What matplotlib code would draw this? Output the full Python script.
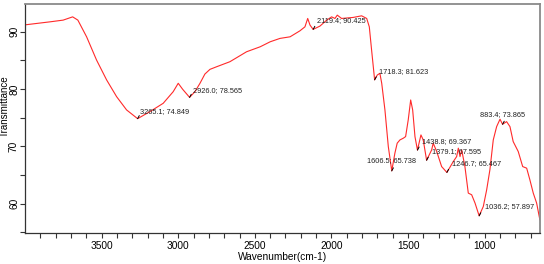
#!/usr/bin/env python3
# -*- coding: utf-8 -*-
"""
plot.py — FTIR spectrum (transmittance vs wavenumber) with peak labels.
"""

import matplotlib
matplotlib.use('Agg')
import matplotlib.pyplot as plt
from matplotlib.ticker import FixedLocator, MultipleLocator

matplotlib.rcParams['font.family'] = ['Liberation Sans', 'DejaVu Sans']

# spectrum (cm-1, %T)
wavenumber = [3998, 3837, 3751, 3689, 3655, 3598, 3533, 3467, 3402, 3337,
              3265.1, 3185, 3098, 3033, 3000, 2971, 2926.0, 2891, 2858, 2826,
              2793, 2749, 2663, 2554, 2465, 2400, 2336, 2270, 2206, 2173,
              2155, 2140, 2119.4, 2075, 2031, 1999, 1977, 1962, 1934, 1858,
              1803, 1770, 1753, 1738, 1718.3, 1701, 1684, 1672, 1651, 1629,
              1606.5, 1586, 1571, 1553, 1531, 1516, 1499, 1483, 1470, 1455,
              1438.8, 1416, 1401, 1379.1, 1346, 1336, 1313, 1281, 1246.7, 1205,
              1183, 1172, 1161, 1150, 1129, 1107, 1085, 1063, 1036.2, 1009,
              987, 966, 944, 922, 900, 883.4, 857, 835, 814, 781,
              752, 726, 705, 683, 661, 640]
transmittance = [91.22, 91.74, 92.04, 92.61, 92.04, 89.13, 85.07, 81.59, 78.68, 76.37,
                 74.849, 76.07, 77.53, 79.55, 81.02, 79.97, 78.565, 79.55, 81.02, 82.63,
                 83.45, 83.91, 84.78, 86.52, 87.39, 88.26, 88.85, 89.13, 90.17, 90.87,
                 92.33, 91.17, 90.425, 91.00, 92.04, 92.61, 92.33, 92.91, 92.33, 92.51,
                 92.79, 92.33, 90.87, 86.81, 81.623, 82.46, 82.76, 81.02, 76.37, 69.98,
                 65.738, 68.83, 70.57, 71.14, 71.44, 71.72, 74.63, 78.11, 76.37, 71.72,
                 69.367, 72.01, 71.14, 67.595, 69.40, 70.57, 69.11, 66.49, 65.467, 67.36,
                 68.23, 69.70, 68.23, 69.40, 66.49, 61.86, 61.57, 60.12, 57.897, 59.53,
                 62.44, 65.92, 71.14, 73.46, 74.75, 73.865, 74.33, 73.46, 70.85, 69.11,
                 66.49, 66.21, 64.17, 61.86, 60.12, 57.22]

# labelled peaks and where their text sits (offset in points, ha)
peak_x = [3265.1, 2926.0, 2119.4, 1718.3, 1606.5, 1438.8, 1379.1, 1246.7, 1036.2, 883.4]
peak_y = [74.849, 78.565, 90.425, 81.623, 65.738, 69.367, 67.595, 65.467, 57.897, 73.865]
peak_off = [(1.5, 5), (2.2, 4.8), (2.6, 6.2), (3.3, 5.8), (0, 7.5),
            (3, 6.5), (3.6, 6.3), (3.6, 6.7), (4.3, 6.8), (0, 7)]
peak_ha = ['left', 'left', 'left', 'left', 'center',
           'left', 'left', 'left', 'left', 'center']

x_major = [3500, 3000, 2500, 2000, 1500, 1000]
x_minor = list(range(3900, 600, -100))


def fig_spectrum():
    fig = plt.figure(figsize=(5.44, 2.64), dpi=100)
    ax = fig.add_axes([25 / 544, 31 / 264, 515 / 544, 228.7 / 264])

    ax.plot(wavenumber, transmittance, color='#ff2a2a', linewidth=0.8)

    for x, y, off, ha in zip(peak_x, peak_y, peak_off, peak_ha):
        ax.annotate(f'{x:.1f}; {y:.3f}', (x, y), xytext=off,
                    textcoords='offset points', ha=ha, va='center',
                    fontsize=5.3, color='#222222')
        # little black tick at the picked point
        ax.annotate('', (x, y), xytext=(1.2, 2.2), textcoords='offset points',
                    arrowprops=dict(arrowstyle='-', color='black', lw=0.7,
                                    shrinkA=0, shrinkB=0))

    ax.set_xlim(4000, 639)
    ax.set_ylim(54.9, 94.8)
    ax.xaxis.set_major_locator(FixedLocator(x_major))
    ax.xaxis.set_minor_locator(FixedLocator(x_minor))
    ax.yaxis.set_major_locator(MultipleLocator(10))
    ax.yaxis.set_minor_locator(MultipleLocator(5))
    ax.tick_params(which='both', direction='out', length=3.5, width=0.8,
                   color='#333333', labelsize=7.3)
    ax.tick_params(axis='x', pad=2.2)
    ax.tick_params(axis='y', pad=0.8)
    for lab in ax.get_yticklabels():
        lab.set_rotation(90)
        lab.set_va('center')

    ax.set_xlabel('Wavenumber(cm-1)', fontsize=7.3, labelpad=1)
    ax.set_ylabel('Transmittance', fontsize=7.1, va='center')
    ax.yaxis.set_label_coords(-0.0395, 0.555)

    for side in ['left', 'bottom']:
        ax.spines[side].set_color('#333333')
        ax.spines[side].set_linewidth(0.9)
    for side in ['top', 'right']:
        ax.spines[side].set_color('#8a8a8a')
        ax.spines[side].set_linewidth(1.3)

    fig.savefig('out.png', dpi=100)
    plt.close(fig)


if __name__ == "__main__":
    fig_spectrum()
